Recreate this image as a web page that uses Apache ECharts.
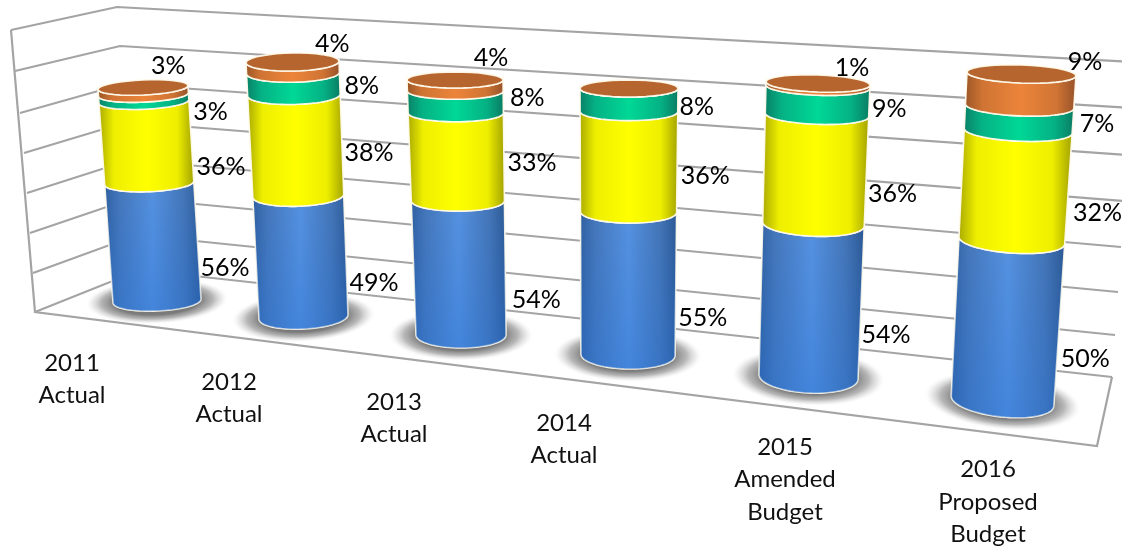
<!DOCTYPE html>
<html>
<head>
<meta charset="utf-8">
<style>html,body{margin:0;padding:0;background:#fff}#chart{width:1122px;height:551px}</style>
<script src="https://cdn.jsdelivr.net/npm/echarts@6/dist/echarts.min.js"></script>
</head>
<body>
<div id="chart"></div>
<script>
// Budget share by fiscal year, one stacked cylinder per year.
const categories = ['2011\nActual', '2012\nActual', '2013\nActual', '2014\nActual', '2015\nAmended\nBudget', '2016\nProposed\nBudget'];
const bluePct   = [56, 49, 54, 55, 54, 50];
const yellowPct = [36, 38, 33, 36, 36, 32];
const greenPct  = [3, 8, 8, 8, 9, 7];
const orangePct = [3, 4, 4, 0, 1, 9];

// Perspective layout of each cylinder: foot and head outlines in screen space.
const footCx   = [157, 303.5, 461, 628, 808.5, 1002.5];
const footHalf = [44, 44.5, 45, 47, 49.5, 51.5];
const footY    = [311, 329, 348, 369, 393, 417];
const footRy   = [10, 12, 13, 14, 16, 16];
const footTilt = [-2.5, -3, 0, 1, 3, 6];
const headCx   = [143, 292.5, 455, 629, 818, 1021.5];
const headHalf = [45, 46.5, 48, 49, 52, 54.5];
const headY    = [95, 71, 88, 97, 92, 83];
const headRy   = [7.5, 9, 8, 8.5, 8.5, 9];
const headTilt = [-2.5, -1, 0, 0, 2, 2];
const foreshorten = 0.08;

// Category label placement relative to the cylinder foot.
const labelShift  = [-85, -74.5, -67, -64, -23.5, -14.5];
const labelMargin = [36, 37, 38, 38, 38, 40];

// Value label offsets from the right edge at each segment's mid height.
const valueOffsets = [
  [[27.5, 15], [29.6, 16], [22, 6], [-20, -33]],
  [[28, 14], [27, -3], [22, -7], [-7, -33]],
  [[31, 19], [28, -4], [24, -13], [-12, -36]],
  [[27, 20], [28, 3], [19, -2], [0, 0]],
  [[25, 19], [26, 13], [20, -1], [-18, -26]],
  [[26, 22], [29, 15], [24, -5], [10, -38]]
];

// Side shading per segment, dark edge to bright middle.
const sideStops = [
  ['#2f5f9f', '#4577ba', '#5692e0', '#4475b6', '#2b5792'],
  ['#a8a800', '#eeee00', '#ffff00', '#eeee00', '#a0a000'],
  ['#0a7f66', '#05b184', '#00d896', '#05b184', '#0a7a62'],
  ['#9a5526', '#cf7434', '#ec843a', '#cf7434', '#95512a']
];
const capColor = '#b5652d';
const rimColor = 'rgba(255,250,235,0.95)';
const wallColor = '#a4a4a4';

// Walls and floor of the plot box.
const wallLeft  = [[11, 30], [15, 71], [20, 113], [24, 153], [27, 193], [30, 233], [33, 273], [35, 312]];
const wallBack  = [[117, 7], [120, 46], [123, 84], [127, 122], [130, 160], [133, 198], [137, 235], [140, 270]];
const wallRight = [[1134, 62], [1131, 108], [1127, 155], [1124, 201], [1121, 247], [1118, 292], [1115, 335], [1112, 377]];
const floorFront = [1097, 446];

function lerp(a, b, t) { return a + (b - a) * t; }

function ringAt(i, t) {
  const s = t / (1 + foreshorten * (1 - t));
  const ry = lerp(footRy[i], headRy[i], s);
  return {
    cx: lerp(footCx[i], headCx[i], s),
    hw: lerp(footHalf[i], headHalf[i], s),
    front: lerp(footY[i], headY[i], s),
    ry: ry,
    tilt: lerp(footTilt[i], headTilt[i], s) * Math.PI / 180
  };
}

function ringPoint(r, angle) {
  const x = r.hw * Math.cos(angle);
  const y = r.ry * Math.sin(angle);
  return [
    r.cx + x * Math.cos(r.tilt) - y * Math.sin(r.tilt),
    r.front - r.ry + x * Math.sin(r.tilt) + y * Math.cos(r.tilt)
  ];
}

function arcPoints(r, from, to) {
  const pts = [];
  for (let k = 0; k <= 36; k++) pts.push(ringPoint(r, lerp(from, to, k / 36)));
  return pts;
}

function sideFill(stops) {
  return new echarts.graphic.LinearGradient(0, 0, 1, 0, [
    { offset: 0, color: stops[0] },
    { offset: 0.16, color: stops[1] },
    { offset: 0.5, color: stops[2] },
    { offset: 0.82, color: stops[3] },
    { offset: 1, color: stops[4] }
  ]);
}

function cylinderItem(i) {
  return function (params, api) {
    const seg = api.value(3);
    const low = api.value(1);
    const high = api.value(2);
    const total = api.value(4);
    const y0 = api.coord([0, 0])[1];
    const yT = api.coord([0, total])[1];
    const tOf = v => (y0 - api.coord([0, v])[1]) / (y0 - yT);
    const lowRing = ringAt(i, tOf(low));
    const highRing = ringAt(i, tOf(high));
    const children = [];

    if (seg === 0) {
      const foot = ringAt(i, 0);
      const reach = foot.hw + 28;
      children.push({
        type: 'circle',
        shape: { cx: 0, cy: 0, r: reach },
        x: foot.cx, y: foot.front - foot.ry,
        scaleX: 1, scaleY: (foot.ry + 13) / reach,
        rotation: -foot.tilt,
        style: {
          fill: new echarts.graphic.RadialGradient(0, 0, reach, [
            { offset: 0, color: 'rgba(90,90,90,0.9)' },
            { offset: 0.6, color: 'rgba(100,100,100,0.85)' },
            { offset: 0.78, color: 'rgba(135,135,135,0.6)' },
            { offset: 0.9, color: 'rgba(190,190,190,0.3)' },
            { offset: 1, color: 'rgba(255,255,255,0)' }
          ], true)
        }
      });
    }

    if (high > low) {
      const outline = arcPoints(lowRing, Math.PI, 0).concat(arcPoints(highRing, 0, Math.PI));
      children.push({
        type: 'polygon',
        shape: { points: outline },
        style: { fill: sideFill(sideStops[seg]), stroke: rimColor, lineWidth: 1.6 }
      });
      if (seg === 0) {
        children.push({
          type: 'polygon',
          shape: { points: outline },
          style: {
            fill: new echarts.graphic.LinearGradient(0, 0, 0, 1, [
              { offset: 0, color: 'rgba(40,115,215,0)' },
              { offset: 1, color: 'rgba(40,115,215,0.4)' }
            ])
          }
        });
      }
    }

    if (high >= total - 1e-6) {
      children.push({
        type: 'polygon',
        shape: { points: arcPoints(highRing, 0, Math.PI * 2) },
        style: { fill: capColor, stroke: rimColor, lineWidth: 1.6 }
      });
    }

    if (high > low) {
      const mid = ringAt(i, tOf((low + high) / 2));
      const off = valueOffsets[i][seg];
      children.push({
        type: 'text',
        z2: 50,
        style: {
          text: (high - low) + '%',
          x: mid.cx + mid.hw + off[0],
          y: mid.front + off[1],
          align: 'center',
          verticalAlign: 'middle',
          font: '25px Lato',
          fill: '#000'
        }
      });
    }
    return { type: 'group', children: children };
  };
}

const grids = [], xAxes = [], yAxes = [], seriesList = [];
categories.forEach(function (name, i) {
  const parts = [bluePct[i], yellowPct[i], greenPct[i], orangePct[i]];
  const total = parts.reduce((a, b) => a + b, 0);
  grids.push({
    left: footCx[i] - footHalf[i],
    width: footHalf[i] * 2,
    top: headY[i],
    height: footY[i] - headY[i]
  });
  xAxes.push({
    type: 'category',
    gridIndex: i,
    data: [name],
    axisLine: { show: false },
    axisTick: { show: false },
    splitLine: { show: false },
    axisLabel: {
      interval: 0,
      margin: labelMargin[i],
      padding: [0, -2 * labelShift[i], 0, 0],
      color: '#111',
      fontFamily: 'Lato',
      fontSize: 24,
      lineHeight: 32.5,
      align: 'center',
      verticalAlign: 'top'
    }
  });
  yAxes.push({ type: 'value', gridIndex: i, min: 0, max: total, show: false });
  let run = 0;
  const rows = parts.map(function (p, seg) {
    const row = [0, run, run + p, seg, total];
    run += p;
    return row;
  });
  seriesList.push({
    type: 'custom',
    xAxisIndex: i,
    yAxisIndex: i,
    clip: false,
    silent: true,
    encode: { x: 0, y: 2 },
    data: rows,
    renderItem: cylinderItem(i)
  });
});

const wallLines = wallLeft.map(function (p, k) {
  return {
    type: 'polyline', silent: true, z: 0,
    shape: { points: [p, wallBack[k], wallRight[k]] },
    style: { fill: null, stroke: wallColor, lineWidth: 2.2 }
  };
});
wallLines.push({
  type: 'polyline', silent: true, z: 0,
  shape: { points: [wallLeft[0], wallLeft[7], floorFront, wallRight[7]] },
  style: { fill: null, stroke: wallColor, lineWidth: 2.2 }
});

const chart = echarts.init(document.getElementById('chart'), null, { renderer: 'canvas' });
chart.setOption({
  animation: false,
  backgroundColor: '#ffffff',
  graphic: { elements: wallLines },
  grid: grids,
  xAxis: xAxes,
  yAxis: yAxes,
  series: seriesList
});
</script>
</body>
</html>
